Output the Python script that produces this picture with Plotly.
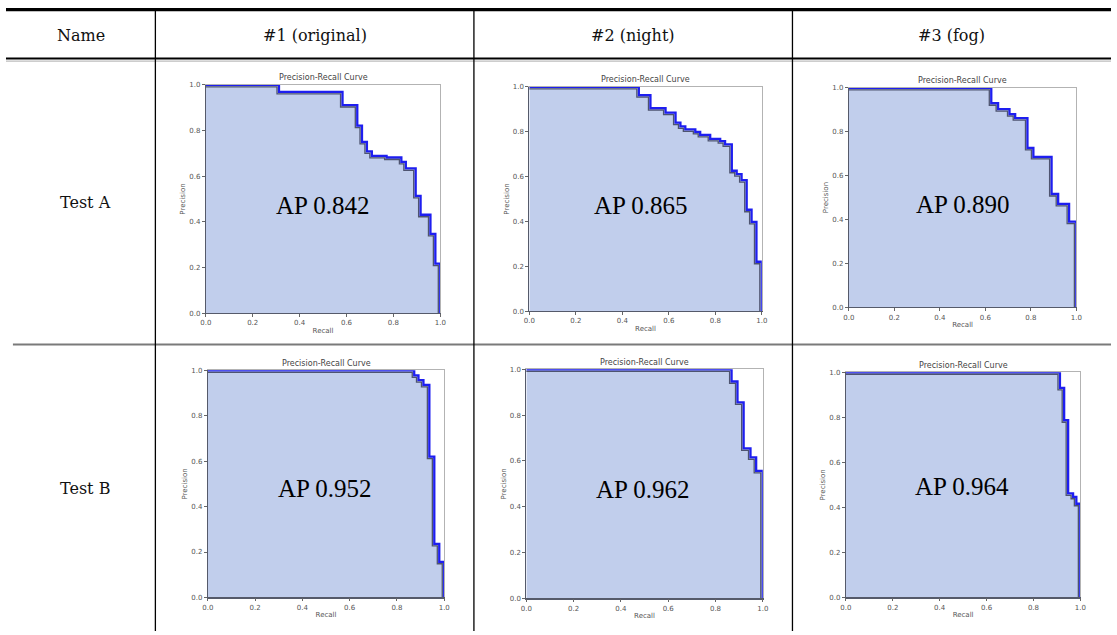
import plotly.graph_objects as go

W, H = 1117, 635

# ---------------- data ----------------
header_labels = ["Name", "#1 (original)", "#2 (night)", "#3 (fog)"]
row_labels = ["Test A", "Test B"]

recall_a_original = [0.0, 0.312, 0.583, 0.646, 0.666, 0.687, 0.708, 0.771, 0.834, 0.853, 0.895, 0.916, 0.958, 0.979, 1.0]
precision_a_original = [1.0, 0.970, 0.912, 0.822, 0.750, 0.709, 0.689, 0.682, 0.663, 0.634, 0.514, 0.431, 0.347, 0.217, 0.0]

recall_a_night = [0.0, 0.471, 0.521, 0.586, 0.629, 0.650, 0.671, 0.714, 0.735, 0.778, 0.821, 0.842, 0.871, 0.892, 0.913, 0.935, 0.956, 0.977, 1.0]
precision_a_night = [1.0, 0.963, 0.905, 0.885, 0.841, 0.824, 0.811, 0.799, 0.786, 0.768, 0.758, 0.744, 0.626, 0.611, 0.584, 0.452, 0.398, 0.220, 0.0]

recall_a_fog = [0.0, 0.626, 0.656, 0.706, 0.731, 0.785, 0.811, 0.891, 0.920, 0.968, 1.0]
precision_a_fog = [1.0, 0.930, 0.903, 0.880, 0.862, 0.726, 0.685, 0.516, 0.471, 0.390, 0.0]

recall_b_original = [0.0, 0.873, 0.891, 0.912, 0.937, 0.958, 0.979, 1.0]
precision_b_original = [1.0, 0.978, 0.957, 0.936, 0.620, 0.236, 0.157, 0.0]

recall_b_night = [0.0, 0.868, 0.893, 0.919, 0.948, 0.972, 1.0]
precision_b_night = [1.0, 0.947, 0.856, 0.655, 0.616, 0.557, 0.0]

recall_b_fog = [0.0, 0.913, 0.931, 0.948, 0.969, 0.983, 1.0]
precision_b_fog = [1.0, 0.931, 0.787, 0.462, 0.447, 0.416, 0.0]

ap_labels = ["AP 0.842", "AP 0.865", "AP 0.890", "AP 0.952", "AP 0.962", "AP 0.964"]

tick_vals = [0.0, 0.2, 0.4, 0.6, 0.8, 1.0]
tick_text = ["0.0", "0.2", "0.4", "0.6", "0.8", "1.0"]

series = [
    (recall_a_original, precision_a_original),
    (recall_a_night, precision_a_night),
    (recall_a_fog, precision_a_fog),
    (recall_b_original, precision_b_original),
    (recall_b_night, precision_b_night),
    (recall_b_fog, precision_b_fog),
]

# ---------------- geometry (pixels) ----------------
panel_boxes = [(202, 439, 82, 313), (529, 764, 84, 311), (852, 1082, 85, 307),
               (204, 443, 371, 601), (526, 765, 370, 602), (849, 1086, 373, 601)]
ap_pos = [(320, 204), (642, 204), (967, 203), (322, 491), (644, 492), (966, 489)]


def fx(x):
    return x / W


def fy(y):
    return 1 - y / H


FILL = "#c1ceec"
BLUE = "#1e1ef0"
GRAY = "#4e5470"
small_font = dict(family="DejaVu Sans", size=7, color="#555555")

fig = go.Figure()
layout = dict(width=W, height=H, margin=dict(l=0, r=0, t=0, b=0),
              paper_bgcolor="white", plot_bgcolor="white", showlegend=False)
shapes = []
annotations = []

for k, (R, P) in enumerate(series):
    x0, x1, y0, y1 = panel_boxes[k]
    m = 2 * k + 1
    o = 2 * k + 2
    mx = "x" if m == 1 else f"x{m}"
    my = "y" if m == 1 else f"y{m}"
    ox, oy = f"x{o}", f"y{o}"
    mkx = "xaxis" if m == 1 else f"xaxis{m}"
    mky = "yaxis" if m == 1 else f"yaxis{m}"
    dom_x = [fx(x0), fx(x1)]
    dom_y = [fy(y1), fy(y0)]
    dx = 2.0 / (x1 - x0)
    dy = 2.0 / (y1 - y0)

    common = dict(range=[0, 1], tickvals=tick_vals, ticktext=tick_text, ticks="outside",
                  ticklen=3, tickwidth=1, tickcolor="#666666", tickfont=small_font,
                  showline=True, mirror=True, linecolor="#b3b3b3", linewidth=1,
                  showgrid=False, zeroline=False, fixedrange=True)
    layout[mkx] = dict(domain=dom_x, anchor=my,
                       title=dict(text="Recall", font=small_font, standoff=1), **common)
    layout[mky] = dict(domain=dom_y, anchor=mx,
                       title=dict(text="Precision", font=small_font, standoff=2), **common)
    layout[f"xaxis{o}"] = dict(domain=dom_x, anchor=oy, overlaying=mx, range=[dx, 1 + dx],
                               showline=True, linecolor="#555a6a", linewidth=1.2,
                               showticklabels=False, ticks="", showgrid=False,
                               zeroline=False, fixedrange=True)
    layout[f"yaxis{o}"] = dict(domain=dom_y, anchor=ox, overlaying=my, range=[dy, 1 + dy],
                               showline=True, linecolor="#555a6a", linewidth=1.2,
                               showticklabels=False, ticks="", showgrid=False,
                               zeroline=False, fixedrange=True)

    fig.add_trace(go.Scatter(x=R, y=P, xaxis=mx, yaxis=my, mode="lines",
                             line=dict(shape="hv", width=0, color=FILL),
                             fill="tozeroy", fillcolor=FILL, hoverinfo="skip"))
    fig.add_trace(go.Scatter(x=R, y=P, xaxis=mx, yaxis=my, mode="lines",
                             line=dict(shape="hv", width=2.3, color=BLUE), hoverinfo="skip"))
    fig.add_trace(go.Scatter(x=R, y=P, xaxis=ox, yaxis=oy, mode="lines",
                             line=dict(shape="hv", width=1.3, color=GRAY), hoverinfo="skip"))

    annotations.append(dict(text="Precision-Recall Curve", x=fx((x0 + x1) / 2), y=fy(y0 - 0.5),
                            xref="paper", yref="paper", xanchor="center", yanchor="bottom",
                            showarrow=False, font=dict(family="DejaVu Sans", size=8, color="#444444")))
    ax_, ay_ = ap_pos[k]
    annotations.append(dict(text=ap_labels[k], x=fx(ax_), y=fy(ay_), xref="paper", yref="paper",
                            xanchor="center", yanchor="middle", showarrow=False,
                            font=dict(family="Liberation Serif", size=25, color="black")))

# ---------------- table text ----------------
header_x = [76, 312, 634, 956]
for lbl, hx in zip(header_labels, header_x):
    annotations.append(dict(text=lbl, x=fx(hx), y=fy(32), xref="paper", yref="paper",
                            xanchor="center", yanchor="middle", showarrow=False,
                            font=dict(family="DejaVu Serif", size=16, color="#111111")))
for lbl, ry in zip(row_labels, [201, 491]):
    annotations.append(dict(text=lbl, x=fx(80), y=fy(ry), xref="paper", yref="paper",
                            xanchor="center", yanchor="middle", showarrow=False,
                            font=dict(family="DejaVu Serif", size=16, color="#111111")))

# ---------------- table rules ----------------
def hline(y, xa, xb, color, width):
    shapes.append(dict(type="line", xref="paper", yref="paper", x0=fx(xa), x1=fx(xb),
                       y0=fy(y), y1=fy(y), line=dict(color=color, width=width), layer="above"))


def vline(x, ya, yb, color, width):
    shapes.append(dict(type="line", xref="paper", yref="paper", x0=fx(x), x1=fx(x),
                       y0=fy(ya), y1=fy(yb), line=dict(color=color, width=width), layer="above"))


hline(5.7, 0, W, "black", 3.3)
hline(55.2, 0, W, "black", 1.8)
hline(57.9, 0, W, "#bdbdbd", 1.2)
hline(344.8, 7, W, "#7a7a7a", 2)
for cx in [151, 473, 795]:
    vline(cx, 7, H, "black", 1.3)

layout["shapes"] = shapes
layout["annotations"] = annotations
fig.update_layout(**layout)
fig.write_html(
    "out.html",
    config={"displayModeBar": False, "staticPlot": True},
    post_script=(
        "document.documentElement.style.margin='0';"
        "document.documentElement.style.overflow='hidden';"
        "document.body.style.margin='0';"
        "document.body.style.padding='0';"
        "document.body.style.overflow='hidden';"
    ),
)
